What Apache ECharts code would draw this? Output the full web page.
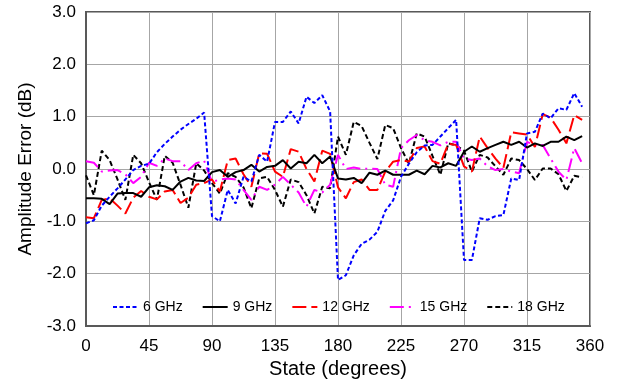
<!DOCTYPE html>
<html>
<head>
<meta charset="utf-8">
<script src="https://cdn.jsdelivr.net/npm/echarts@6/dist/echarts.min.js"></script>
<style>
html,body{margin:0;padding:0;background:#fff;}
#chart{width:619px;height:385px;}
</style>
</head>
<body>
<div id="chart"></div>
<script>
const states = [0, 5.625, 11.25, 16.875, 22.5, 28.125, 33.75, 39.375, 45, 50.625, 56.25, 61.875, 67.5, 73.125, 78.75, 84.375,
  90, 95.625, 101.25, 106.875, 112.5, 118.125, 123.75, 129.375, 135, 140.625, 146.25, 151.875, 157.5, 163.125, 168.75, 174.375,
  180, 185.625, 191.25, 196.875, 202.5, 208.125, 213.75, 219.375, 225, 230.625, 236.25, 241.875, 247.5, 253.125, 258.75, 264.375,
  270, 275.625, 281.25, 286.875, 292.5, 298.125, 303.75, 309.375, 315, 320.625, 326.25, 331.875, 337.5, 343.125, 348.75, 354.375];

const ghz6 = [-1.04,-0.98,-0.7,-0.53,-0.37,-0.2,-0.02,0.06,0.1,0.32,0.48,0.62,0.75,0.86,0.96,1.08,
  -0.9,-1.0,-0.4,-0.66,-0.15,-0.24,0.27,0.14,0.9,0.9,1.1,0.87,1.38,1.26,1.41,1.1,
  -2.12,-2.03,-1.65,-1.43,-1.35,-1.2,-0.8,-0.6,-0.15,0.1,0.32,0.45,0.46,0.62,0.78,0.94,
  -1.74,-1.74,-0.94,-0.97,-0.9,-0.88,-0.18,-0.21,0.68,0.71,1.06,0.97,1.16,1.13,1.45,1.19];

const ghz9 = [-0.56,-0.56,-0.57,-0.67,-0.47,-0.46,-0.46,-0.53,-0.35,-0.31,-0.33,-0.4,-0.24,-0.17,-0.22,-0.23,
  -0.06,-0.02,-0.15,-0.06,-0.02,0.08,-0.05,0.04,0.06,0.17,0.01,0.14,0.11,0.27,0.11,0.24,
  -0.18,-0.2,-0.17,-0.27,-0.07,-0.11,-0.03,-0.11,-0.11,-0.11,-0.03,-0.1,0.06,0.03,0.11,0.06,
  0.33,0.43,0.33,0.4,0.46,0.52,0.46,0.52,0.41,0.49,0.44,0.52,0.52,0.62,0.55,0.63];

const ghz12 = [-0.92,-0.94,-0.59,-0.56,-0.7,-0.85,-0.55,-0.42,-0.53,-0.58,-0.43,-0.4,-0.65,-0.55,-0.3,-0.27,
  -0.2,-0.43,0.17,0.2,-0.1,-0.34,0.3,0.29,-0.05,-0.15,0.38,0.33,0.0,-0.24,0.35,0.29,
  -0.35,-0.56,-0.25,-0.2,-0.4,-0.4,-0.05,0.14,0.17,0.14,0.4,0.43,0.15,0.1,0.48,0.46,
  0.05,-0.05,0.62,0.4,0.2,0.02,0.7,0.68,0.66,0.42,1.05,0.98,0.75,0.49,1.03,0.94];

const ghz15 = [0.15,0.12,-0.05,-0.03,-0.02,-0.1,-0.27,-0.15,0.12,0.06,0.2,0.15,0.15,-0.02,0.11,0.16,
  -0.25,-0.2,-0.18,-0.2,-0.4,-0.59,-0.34,-0.4,-0.3,-0.15,-0.3,-0.45,-0.72,-0.4,-0.45,-0.3,
  0.27,0.0,0.03,0.0,0.01,0.0,-0.3,-0.34,0.4,0.55,0.65,0.55,0.52,0.45,0.52,0.52,
  0.2,0.17,0.2,0.05,-0.02,0.0,-0.05,-0.08,0.52,0.45,0.46,0.2,-0.05,-0.21,0.4,0.11];

const ghz18 = [-0.12,-0.5,0.35,0.17,-0.2,-0.59,0.27,0.11,-0.25,-0.59,0.25,0.12,-0.3,-0.74,0.11,-0.03,
  -0.27,-0.47,-0.08,-0.15,-0.35,-0.75,-0.18,-0.15,-0.4,-0.72,-0.2,-0.25,-0.5,-0.85,-0.34,-0.37,
  0.62,0.27,0.9,0.82,0.5,0.19,0.84,0.78,0.4,0.1,0.68,0.62,0.25,-0.11,0.49,0.45,
  0.35,-0.05,0.27,0.22,0.05,-0.11,0.2,0.17,0.0,-0.21,0.01,0.01,-0.1,-0.42,-0.13,-0.16];

const seriesNames = ['6 GHz', '9 GHz', '12 GHz', '15 GHz', '18 GHz'];
const xTicks = [0, 45, 90, 135, 180, 225, 270, 315, 360];
const yTicks = [-3, -2, -1, 0, 1, 2, 3];

function pairs(vals) { return states.map((s, i) => [s, vals[i]]); }

const styles = [
  { color: '#0000FF', type: [4, 2.5] },
  { color: '#000000', type: 'solid' },
  { color: '#FF0000', type: [14, 5] },
  { color: '#FF00FF', type: [14, 5, 2, 5] },
  { color: '#000000', type: [5, 3] }
];
const allData = [ghz6, ghz9, ghz12, ghz15, ghz18];
const FONT = 'Liberation Sans, Arial, sans-serif';

const chart = echarts.init(document.getElementById('chart'), null, { renderer: 'canvas' });
chart.setOption({
  animation: false,
  backgroundColor: '#fff',
  textStyle: { fontFamily: FONT },
  grid: {
    left: 86, right: 29, top: 12, bottom: 59,
    show: true, borderColor: '#595959', borderWidth: 2, backgroundColor: 'transparent'
  },
  legend: {
    data: seriesNames,
    left: 107, top: 295,
    itemWidth: 25, itemHeight: 14, itemGap: 19,
    itemStyle: { opacity: 0 },
    textStyle: { fontSize: 14, color: '#000', fontFamily: FONT }
  },
  xAxis: {
    type: 'value', min: xTicks[0], max: xTicks[xTicks.length - 1], interval: 45,
    name: 'State (degrees)', nameLocation: 'middle', nameGap: 28,
    nameTextStyle: { fontSize: 20, color: '#000', fontFamily: FONT },
    axisLine: { show: true, onZero: false, lineStyle: { color: '#595959', width: 2 } },
    axisTick: { show: false },
    axisLabel: { fontSize: 17, color: '#000', margin: 12, fontFamily: FONT },
    splitLine: { show: true, lineStyle: { color: '#A6A6A6', width: 1 } }
  },
  yAxis: {
    type: 'value', min: yTicks[0], max: yTicks[yTicks.length - 1], interval: 1,
    name: 'Amplitude Error (dB)', nameLocation: 'middle', nameGap: 51,
    nameTextStyle: { fontSize: 19, color: '#000', fontFamily: FONT },
    axisLine: { show: true, onZero: false, lineStyle: { color: '#595959', width: 2 } },
    axisTick: { show: false },
    axisLabel: { fontSize: 17, color: '#000', margin: 10, fontFamily: FONT, formatter: v => v.toFixed(1) },
    splitLine: { show: true, lineStyle: { color: '#A6A6A6', width: 1 } }
  },
  series: seriesNames.map((name, k) => ({
    name: name,
    type: 'line',
    data: pairs(allData[k]),
    symbol: 'none',
    color: styles[k].color,
    lineStyle: { color: styles[k].color, width: 2, type: styles[k].type },
    z: 5 - k
  }))
});
</script>
</body>
</html>
